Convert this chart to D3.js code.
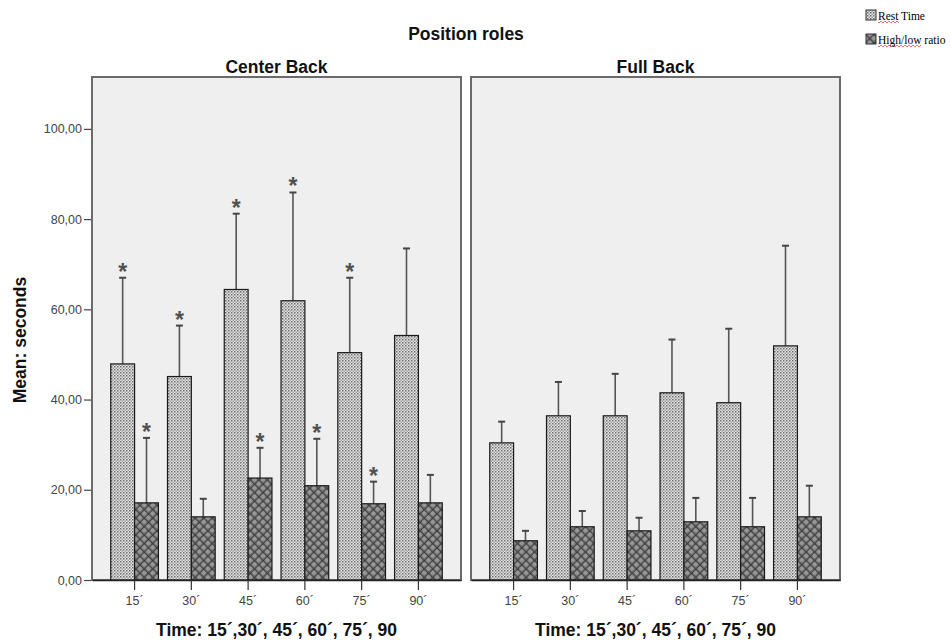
<!DOCTYPE html>
<html>
<head>
<meta charset="utf-8">
<script src="https://cdn.jsdelivr.net/npm/d3@7/dist/d3.min.js"></script>
<style>
  html, body { margin: 0; padding: 0; background: #fff; }
  svg { display: block; }
</style>
</head>
<body>
<svg id="chart" width="950" height="640"></svg>
<script>
// ---------------- DATA ----------------
const times = ["15´", "30´", "45´", "60´", "75´", "90´"];
const panelNames = ["Center Back", "Full Back"];
const seriesNames = ["Rest Time", "High/low ratio"];
const yTicks = [0, 20, 40, 60, 80, 100];

// Center Back
const cbRest = [47.9, 45.1, 64.4, 61.9, 50.4, 54.2];
const cbRestUpper = [67.0, 56.4, 81.2, 85.9, 67.0, 73.5];
const cbRatio = [17.1, 14.0, 22.6, 20.9, 16.9, 17.1];
const cbRatioUpper = [31.5, 18.0, 29.3, 31.3, 21.8, 23.3];
const cbRestSig = [true, true, true, true, true, false];
const cbRatioSig = [true, false, true, true, true, false];

// Full Back
const fbRest = [30.4, 36.4, 36.4, 41.5, 39.3, 51.9];
const fbRestUpper = [35.1, 43.9, 45.7, 53.3, 55.7, 74.1];
const fbRatio = [8.7, 11.8, 10.9, 12.9, 11.8, 14.0];
const fbRatioUpper = [10.9, 15.3, 13.8, 18.2, 18.2, 20.9];
const fbRestSig = [false, false, false, false, false, false];
const fbRatioSig = [false, false, false, false, false, false];

// ---------------- BUILD ----------------
const panelData = [
  { name: panelNames[0], series: [
      { key: seriesNames[0], mean: cbRest, upper: cbRestUpper, sig: cbRestSig },
      { key: seriesNames[1], mean: cbRatio, upper: cbRatioUpper, sig: cbRatioSig } ] },
  { name: panelNames[1], series: [
      { key: seriesNames[0], mean: fbRest, upper: fbRestUpper, sig: fbRestSig },
      { key: seriesNames[1], mean: fbRatio, upper: fbRatioUpper, sig: fbRatioSig } ] }
];

const svg = d3.select("#chart");
const sans = "'Liberation Sans', Arial, sans-serif";
const serif = "'Liberation Serif', 'Times New Roman', serif";

// patterns
const defs = svg.append("defs");
const pRest = defs.append("pattern").attr("id", "patRest")
  .attr("patternUnits", "userSpaceOnUse").attr("width", 3).attr("height", 3);
pRest.append("rect").attr("width", 3).attr("height", 3).attr("fill", "#e6e6e6");
pRest.append("rect").attr("x", 0).attr("y", 0).attr("width", 1.5).attr("height", 1.5).attr("fill", "#6a6a6a");
pRest.append("rect").attr("x", 1.5).attr("y", 1.5).attr("width", 1.5).attr("height", 1.5).attr("fill", "#a0a0a0");

const pRatio = defs.append("pattern").attr("id", "patRatio")
  .attr("patternUnits", "userSpaceOnUse").attr("width", 6).attr("height", 6)
  .attr("patternTransform", "rotate(45)");
pRatio.append("rect").attr("width", 6).attr("height", 6).attr("fill", "#6a6a6a");
pRatio.append("circle").attr("cx", 3).attr("cy", 3).attr("r", 2.3).attr("fill", "#979797");
pRatio.append("line").attr("x1", 0).attr("y1", 0).attr("x2", 6).attr("y2", 0).attr("stroke", "#2a2a2a").attr("stroke-width", 1.2);
pRatio.append("line").attr("x1", 0).attr("y1", 0).attr("x2", 0).attr("y2", 6).attr("stroke", "#2a2a2a").attr("stroke-width", 1.2);

const fills = d3.scaleOrdinal().domain(seriesNames).range(["url(#patRest)", "url(#patRatio)"]);

const plotTop = 77, plotBottom = 580;
const y = d3.scaleLinear().domain([0, 111.5]).range([plotBottom, plotTop]);

const panelX = d3.scaleBand().domain(panelNames).range([92, 840]).paddingInner(0.0264);

const fmt = v => d3.format(".2f")(v).replace(".", ",");

// title
svg.append("text").attr("x", 466).attr("y", 40).attr("text-anchor", "middle")
  .attr("font-family", sans).attr("font-weight", "bold").attr("font-size", 17.5)
  .attr("fill", "#111").text("Position roles");

// y axis
const yAxis = d3.axisLeft(y).tickValues(yTicks).tickFormat(fmt).tickSize(8).tickPadding(2);
const yg = svg.append("g").attr("transform", `translate(${panelX(panelNames[0])},0)`).call(yAxis);
yg.select(".domain").remove();
yg.selectAll(".tick line").attr("stroke", "#444").attr("stroke-width", 1.2);
yg.selectAll(".tick text").attr("font-family", sans).attr("font-size", 12.5).attr("fill", "#444");

svg.append("text").attr("transform", `translate(26,${340}) rotate(-90)`).attr("text-anchor", "middle")
  .attr("font-family", sans).attr("font-weight", "bold").attr("font-size", 17.5)
  .attr("fill", "#111").text("Mean: seconds");

panelData.forEach(pd => {
  const x0 = panelX(pd.name), w = panelX.bandwidth();
  const g = svg.append("g");
  const xBand = d3.scaleBand().domain(times).range([x0, x0 + w]).paddingInner(0.16).paddingOuter(0.33);
  const xSer = d3.scaleBand().domain(seriesNames).range([0, xBand.bandwidth()]);

  // panel background + border
  g.append("rect").attr("x", x0).attr("y", plotTop).attr("width", w).attr("height", plotBottom - plotTop)
    .attr("fill", "#efefef").attr("stroke", "#6a6a6a").attr("stroke-width", 2);

  // panel header
  g.append("text").attr("x", x0 + w / 2).attr("y", 73).attr("text-anchor", "middle")
    .attr("font-family", sans).attr("font-weight", "bold").attr("font-size", 17.5)
    .attr("fill", "#111").text(pd.name);

  // bars
  pd.series.forEach(s => {
    const rows = times.map((t, i) => ({ t, mean: s.mean[i], upper: s.upper[i], sig: s.sig[i] }));
    const cx = d => xBand(d.t) + xSer(s.key) + xSer.bandwidth() / 2;
    g.selectAll(null).data(rows).enter().append("line")
      .attr("x1", cx).attr("x2", cx)
      .attr("y1", d => y(d.mean)).attr("y2", d => y(d.upper))
      .attr("stroke", "#555").attr("stroke-width", 1.6);
    g.selectAll(null).data(rows).enter().append("line")
      .attr("x1", d => cx(d) - 3.5).attr("x2", d => cx(d) + 3.5)
      .attr("y1", d => y(d.upper)).attr("y2", d => y(d.upper))
      .attr("stroke", "#444").attr("stroke-width", 2);
    g.selectAll(null).data(rows).enter().append("rect")
      .attr("x", d => xBand(d.t) + xSer(s.key))
      .attr("y", d => y(d.mean))
      .attr("width", xSer.bandwidth())
      .attr("height", d => y(0) - y(d.mean))
      .attr("fill", fills(s.key)).attr("stroke", "#1a1a1a").attr("stroke-width", 1.2);
    g.selectAll(null).data(rows.filter(d => d.sig)).enter().append("text")
      .attr("x", cx).attr("y", d => y(d.upper) + 2)
      .attr("text-anchor", "middle").attr("font-family", sans).attr("font-weight", "bold").attr("font-size", 23)
      .attr("fill", "#505050").text("*");
  });

  // x axis
  const xAxis = d3.axisBottom(xBand).tickSize(10).tickSizeOuter(0).tickPadding(6);
  const xg = g.append("g").attr("transform", `translate(0,${plotBottom})`).call(xAxis);
  xg.select(".domain").attr("stroke", "#222").attr("stroke-width", 1.6);
  xg.selectAll(".tick line").attr("stroke", "#333").attr("stroke-width", 1.2);
  xg.selectAll(".tick text").attr("font-family", sans).attr("font-size", 12.5).attr("fill", "#444");

  g.append("text").attr("x", x0 + w / 2).attr("y", 636).attr("text-anchor", "middle")
    .attr("font-family", sans).attr("font-weight", "bold").attr("font-size", 17.5)
    .attr("fill", "#111").text("Time: 15´,30´, 45´, 60´, 75´, 90");
});

// legend
const leg = svg.append("g");
seriesNames.forEach((name, i) => {
  const ly = 10 + i * 24;
  leg.append("rect").attr("x", 866).attr("y", ly).attr("width", 10).attr("height", 10)
    .attr("fill", fills(name)).attr("stroke", "#333").attr("stroke-width", 1);
  leg.append("text").attr("x", 878).attr("y", ly + 9.5)
    .attr("font-family", serif).attr("font-size", 11.5).attr("fill", "#000").text(name);
});
// spell-check squiggles under the legend words
const squig = (x1, x2, yy) => {
  let d = `M${x1},${yy}`;
  for (let x = x1; x < x2; x += 2) d += `L${x + 1},${yy + ((x - x1) / 2 % 2 ? -1 : 1)}`;
  return d;
};
leg.append("path").attr("d", squig(878, 899, 22)).attr("fill", "none").attr("stroke", "#e05050").attr("stroke-width", 0.8);
leg.append("path").attr("d", squig(878, 921, 46)).attr("fill", "none").attr("stroke", "#e05050").attr("stroke-width", 0.8);
</script>
</body>
</html>
